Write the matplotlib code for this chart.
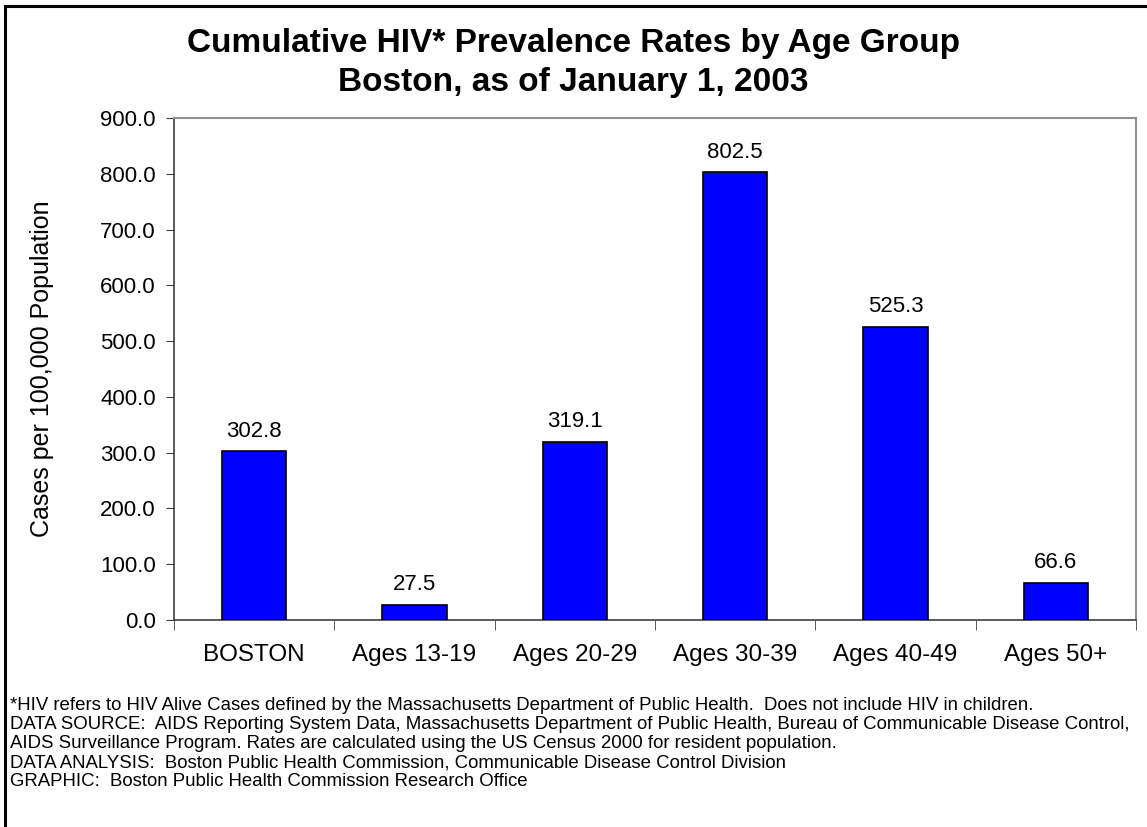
import matplotlib
matplotlib.use("Agg")
import matplotlib.pyplot as plt
from matplotlib.patches import Rectangle

plt.rcParams['font.family'] = ['Liberation Sans', 'DejaVu Sans']

categories = ["BOSTON", "Ages 13-19", "Ages 20-29", "Ages 30-39", "Ages 40-49", "Ages 50+"]
rates = [302.8, 27.5, 319.1, 802.5, 525.3, 66.6]
yticks = [0, 100, 200, 300, 400, 500, 600, 700, 800, 900]

footnotes = [
    "*HIV refers to HIV Alive Cases defined by the Massachusetts Department of Public Health.  Does not include HIV in children.",
    "DATA SOURCE:  AIDS Reporting System Data, Massachusetts Department of Public Health, Bureau of Communicable Disease Control,",
    "AIDS Surveillance Program. Rates are calculated using the US Census 2000 for resident population.",
    "DATA ANALYSIS:  Boston Public Health Commission, Communicable Disease Control Division",
    "GRAPHIC:  Boston Public Health Commission Research Office",
]

W, H = 1147, 827
fig = plt.figure(figsize=(W / 100, H / 100), dpi=100)
ax = fig.add_axes([174 / W, 1 - 620 / H, (1136 - 174) / W, (620 - 118) / H])

x = list(range(len(categories)))
ax.bar(x, rates, width=0.4, color="#0000FF", edgecolor="black", linewidth=1.2, zorder=3)
for xi, v in zip(x, rates):
    ax.annotate("%.1f" % v, (xi, v), xytext=(0, 10.5), textcoords="offset points",
                ha="center", va="baseline", fontsize=16)

ax.set_xlim(-0.5, len(categories) - 0.5)
ax.set_ylim(0, 900)
ax.set_yticks(yticks)
ax.set_yticklabels(["%.1f" % t for t in yticks], fontsize=16)
ax.set_xticks(x)
ax.set_xticklabels(categories, fontsize=17.5)
ax.tick_params(axis="x", length=0, pad=17)
ax.set_xticks([i - 0.5 for i in range(len(categories) + 1)], minor=True)
ax.tick_params(axis="x", which="minor", length=7, direction="out", color="#404040")
ax.tick_params(axis="y", length=6, direction="out", color="#404040", pad=7)

for s in ["top", "right"]:
    ax.spines[s].set_color("#909090")
    ax.spines[s].set_linewidth(1.5)
for s in ["left", "bottom"]:
    ax.spines[s].set_color("#404040")
    ax.spines[s].set_linewidth(1.2)

ax.set_ylabel("Cases per 100,000 Population", fontsize=18)
ax.yaxis.set_label_coords(-0.125, 0.5)

fig.text(0.5, 1 - 52 / H, "Cumulative HIV* Prevalence Rates by Age Group",
         ha="center", va="baseline", fontsize=24, fontweight="bold")
fig.text(0.5, 1 - 91 / H, "Boston, as of January 1, 2003",
         ha="center", va="baseline", fontsize=24, fontweight="bold")

for i, line in enumerate(footnotes):
    fig.text(10 / W, 1 - (710 + i * 19) / H, line, ha="left", va="baseline", fontsize=13.4)

fig.patches.append(Rectangle((5 / W, -0.05), 1.1, 1 - 6 / H + 0.05, transform=fig.transFigure,
                             fill=False, edgecolor="black", linewidth=2.2))

fig.savefig("out.png", dpi=100)
